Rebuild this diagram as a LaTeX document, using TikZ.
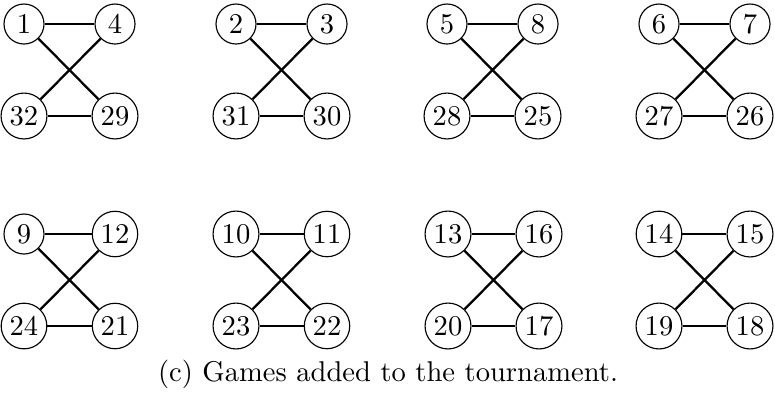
\documentclass[tikz,border=0pt]{standalone}
\usetikzlibrary{positioning}

\tikzset{
  team/.style={draw,circle,inner sep=1.4pt,minimum size=14pt},
  game/.style={thick}
}

\begin{document}
\begin{tikzpicture}[x=0.35pt,y=-0.35pt]
	\useasboundingbox (0,0) rectangle (775,393);

	%teams and games, one group of four at a time
	\foreach \a/\b/\c/\d/\x/\y in {1/4/32/29/24/24, 2/3/31/30/236/24, 5/8/28/25/447/24, 6/7/27/26/659/24,
	                              9/12/24/21/24/234, 10/11/23/22/236/234, 13/16/20/17/448/234, 14/15/19/18/659/234}{
		\node[team] (t\a) at (\x,\y) {\a}; %top left
		\node[team] (t\b) at (\x+91,\y) {\b}; %top right
		\node[team] (t\c) at (\x,\y+92) {\c}; %bottom left
		\node[team] (t\d) at (\x+91,\y+92) {\d}; %bottom right
		\draw[game] (t\a) -- (t\b);
		\draw[game] (t\c) -- (t\d);
		\draw[game] (t\a) -- (t\d); %cross
		\draw[game] (t\b) -- (t\c); %cross
	}

	%caption
	\node (caption) at (388,374) {(c) Games added to the tournament.};
\end{tikzpicture}
\end{document}
